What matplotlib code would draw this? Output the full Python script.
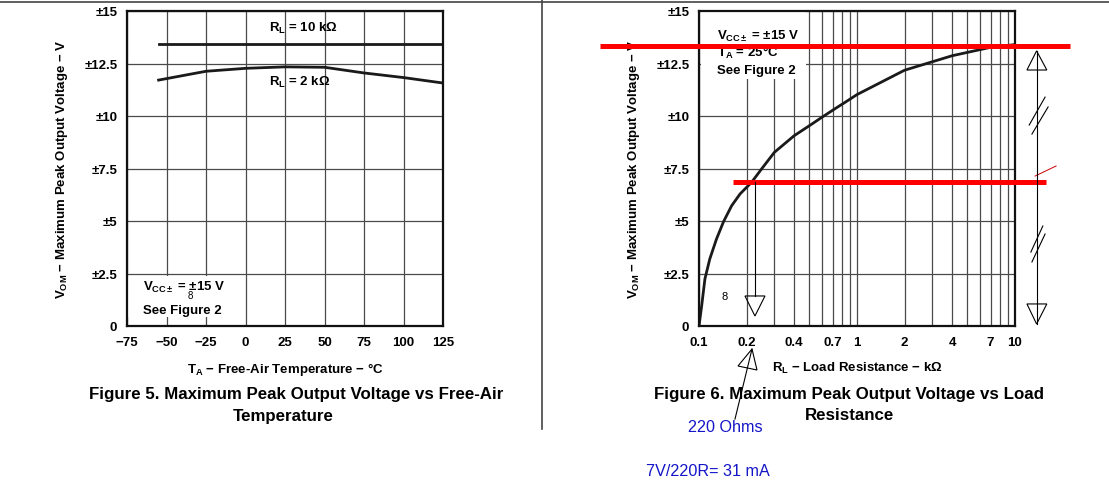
import numpy as np
import matplotlib
matplotlib.use("Agg")
import matplotlib.pyplot as plt
from matplotlib.lines import Line2D
from matplotlib.patches import Rectangle, Polygon

plt.rcParams['font.family'] = ['Liberation Sans', 'DejaVu Sans']
plt.rcParams['mathtext.fontset'] = 'custom'
plt.rcParams['mathtext.rm'] = 'Liberation Sans'
plt.rcParams['mathtext.bf'] = 'Liberation Sans:bold'
plt.rcParams['mathtext.it'] = 'Liberation Sans:italic'

# Figure 5: VOM vs free-air temperature
temp_10k = [-55, 125]
vom_10k = [13.45, 13.45]
temp_2k = [-55, -25, 0, 25, 50, 75, 100, 125]
vom_2k = [11.71, 12.13, 12.27, 12.34, 12.32, 12.05, 11.83, 11.57]
temp_ticks = [-75, -50, -25, 0, 25, 50, 75, 100, 125]
temp_tick_labels = ["\u221275", "\u221250", "\u221225", "0", "25", "50", "75", "100", "125"]

# Figure 6: VOM vs load resistance (kOhm)
r_load = [0.1, 0.104, 0.109, 0.117, 0.129, 0.143, 0.161, 0.182, 0.215, 0.249, 0.3, 0.4, 0.5,
          0.6, 0.72, 0.84, 1.0, 2.0, 4.0, 7.0, 10.0]
vom_r = [0.0, 0.97, 2.24, 3.19, 4.14, 4.97, 5.73, 6.29, 6.84, 7.48, 8.27, 9.06, 9.54,
         9.94, 10.33, 10.65, 11.02, 12.18, 12.87, 13.27, 13.4]
r_ticks = [0.1, 0.2, 0.4, 0.7, 1, 2, 4, 7, 10]
r_tick_labels = ["0.1", "0.2", "0.4", "0.7", "1", "2", "4", "7", "10"]
r_grid = [0.2, 0.3, 0.4, 0.5, 0.6, 0.7, 0.8, 0.9, 1, 2, 3, 4, 5, 6, 7, 8, 9]

vom_ticks = [0, 2.5, 5, 7.5, 10, 12.5, 15]
vom_tick_labels = ["0", "\u00b12.5", "\u00b15", "\u00b17.5", "\u00b110", "\u00b112.5", "\u00b115"]

# hand-drawn markup on figure 6 (data units of that chart)
red_level_top = 13.32
red_level_low = 6.84
r_220 = 0.226
r_span = 13.7

W, H = 1109, 481
fig = plt.figure(figsize=(W / 100, H / 100), dpi=100)

ylabel = "$\\mathbf{V_{OM}}$ \u2212 Maximum Peak Output Voltage \u2212 V"
grid_col = "#4a4a4a"
fs = 9.5


def style(ax):
    ax.set_ylim(0, 15)
    ax.set_yticks(vom_ticks)
    ax.set_yticklabels(vom_tick_labels)
    ax.grid(True, which="both", color=grid_col, lw=0.9)
    ax.set_axisbelow(True)
    ax.tick_params(which="both", length=0, labelsize=fs, pad=7)
    for lab in ax.get_xticklabels() + ax.get_yticklabels():
        lab.set_fontweight("bold")
    for s in ax.spines.values():
        s.set_linewidth(1.6)
        s.set_color("#111111")
        s.set_zorder(4)
    ax.set_ylabel(ylabel, fontsize=fs, fontweight="bold", labelpad=10)


def atext(ax, x, y, s, **kw):
    opts = dict(transform=ax.transAxes, va="center", fontsize=fs, fontweight="bold", zorder=3)
    opts.update(kw)
    ax.text(x, y, s, **opts)


# ---- left chart
ax1 = fig.add_axes([127 / W, 1 - 327 / H, 316 / W, 315 / H])
ax1.set_xlim(-75, 125)
ax1.set_xticks(temp_ticks)
ax1.set_xticklabels(temp_tick_labels)
style(ax1)
ax1.plot(temp_10k, vom_10k, color="#1a1a1a", lw=2.0, zorder=3)
ax1.plot(temp_2k, vom_2k, color="#1a1a1a", lw=2.0, zorder=3)
atext(ax1, 0.557, 0.949, "$\\mathbf{R_L}$ = 10 k\u03a9", ha="center")
atext(ax1, 0.547, 0.775, "$\\mathbf{R_L}$ = 2 k\u03a9", ha="center")
ax1.add_patch(Rectangle((0.004, 0.029), 0.34, 0.13, transform=ax1.transAxes,
                        facecolor="white", edgecolor="none", zorder=1))
atext(ax1, 0.051, 0.124, "$\\mathbf{V_{CC\\pm}}$ = \u00b115 V", ha="left")
atext(ax1, 0.051, 0.051, "See Figure 2", ha="left")
atext(ax1, 0.199, 0.098, "8", ha="center", fontsize=7, fontweight="normal")
ax1.set_xlabel("$\\mathbf{T_A}$ \u2212 Free-Air Temperature \u2212 \u00b0C", fontsize=fs,
               fontweight="bold", labelpad=9)

# ---- right chart
ax2 = fig.add_axes([699 / W, 1 - 327 / H, 316 / W, 315 / H])
ax2.set_xscale("log")
ax2.set_xlim(0.1, 10)
ax2.set_xticks(r_ticks)
ax2.set_xticklabels(r_tick_labels)
ax2.set_xticks(r_grid, minor=True)
ax2.set_xticklabels([], minor=True)
style(ax2)
ax2.plot(r_load, vom_r, color="#1a1a1a", lw=2.0, zorder=3)
ax2.add_patch(Rectangle((0.005, 0.784), 0.335, 0.216, transform=ax2.transAxes,
                        facecolor="white", edgecolor="none", zorder=1))
atext(ax2, 0.057, 0.921, "$\\mathbf{V_{CC\\pm}}$ = \u00b115 V", ha="left")
atext(ax2, 0.057, 0.870, "$\\mathbf{T_A}$ = 25\u00b0C", ha="left")
atext(ax2, 0.057, 0.813, "See Figure 2", ha="left")
atext(ax2, 0.080, 0.095, "8", ha="center", fontsize=8, fontweight="normal")
ax2.set_xlabel("$\\mathbf{R_L}$ \u2212 Load Resistance \u2212 k\u03a9", fontsize=fs,
               fontweight="bold", labelpad=9)

# red markup lines
ax2.plot([0.0236, 22.4], [red_level_top, red_level_top], color="red", lw=3.6, clip_on=False, zorder=5,
         solid_capstyle="butt")
ax2.plot([0.164, 15.6], [red_level_low, red_level_low], color="red", lw=3.6, clip_on=False, zorder=5,
         solid_capstyle="butt")
ax2.plot([13.4, 18.2], [7.14, 7.62], color="#cc0000", lw=0.7, clip_on=False, zorder=5)

thin = dict(color="black", lw=0.8, clip_on=False, zorder=5)


def hollow(ax, pts):
    ax.add_patch(Polygon(pts, closed=True, fill=False, ec="black", lw=0.8, clip_on=False, zorder=5))


# arrow down at 220 ohm
ax2.plot([r_220, r_220], [red_level_low, 1.43], **thin)
hollow(ax2, [[0.1954, 1.43], [0.2616, 1.43], [r_220, 0.476]])
# span arrow on the right
ax2.plot([r_span, r_span], [13.1, 0.095], **thin)
hollow(ax2, [[11.9, 12.19], [15.9, 12.19], [r_span, 13.1]])
hollow(ax2, [[11.9, 1.05], [15.9, 1.05], [r_span, 0.095]])
for xs, ys in [([12.3, 15.5], [9.57, 10.9]), ([12.8, 16.2], [9.14, 10.43]),
               ([12.6, 15.0], [3.52, 4.76]), ([12.8, 15.5], [3.05, 4.38])]:
    ax2.plot(xs, ys, **thin)
# arrow pointing at the 0.2 tick label
ax2.plot([0.2165, 0.169], [-1.095, -4.43], **thin)
hollow(ax2, [[0.1765, -1.905], [0.2328, -2.095], [0.2165, -1.095]])

# captions
cap = dict(ha="center", va="center", fontsize=12.2, fontweight="bold")
fig.text(296 / W, 1 - 394 / H, "Figure 5. Maximum Peak Output Voltage vs Free-Air", **cap)
fig.text(283 / W, 1 - 416 / H, "Temperature", **cap)
fig.text(849 / W, 1 - 394 / H, "Figure 6. Maximum Peak Output Voltage vs Load", **cap)
fig.text(849 / W, 1 - 416 / H, "Resistance", **cap)

blue = "#1414c8"
fig.text(725 / W, 1 - 428 / H, "220 Ohms", ha="center", va="center", fontsize=11.6, color=blue)
fig.text(708 / W, 1 - 472 / H, "7V/220R= 31 mA", ha="center", va="center", fontsize=11.6, color=blue)

# page rules
fig.add_artist(Line2D([0, 1], [1 - 2.5 / H, 1 - 2.5 / H], transform=fig.transFigure, color="#444444", lw=1.2))
fig.add_artist(Line2D([542 / W, 542 / W], [1, 1 - 430 / H], transform=fig.transFigure, color="#444444", lw=1.2))

fig.savefig("out.png", dpi=100)
